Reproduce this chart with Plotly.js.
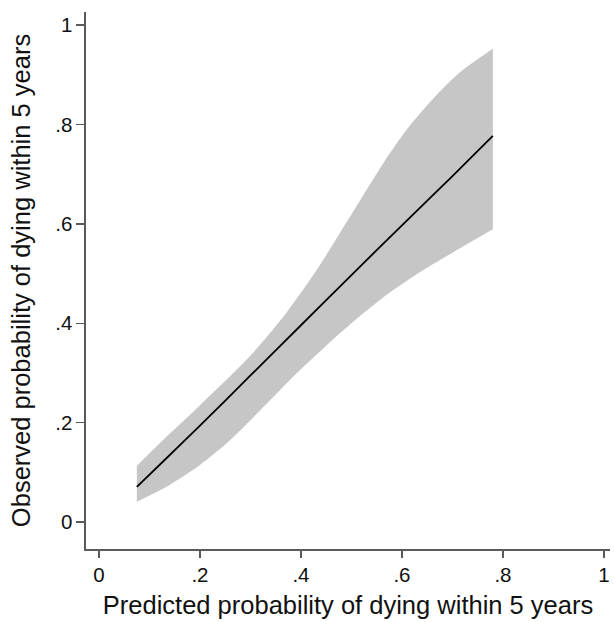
<!DOCTYPE html>
<html>
<head>
<meta charset="utf-8">
<script src="https://cdn.plot.ly/plotly-3.0.1.min.js"></script>
<style>html,body{margin:0;padding:0;background:#fff;}#chart{width:614px;height:622px;}</style>
</head>
<body>
<div id="chart"></div>
<script>
// Fitted curve (observed vs predicted)
const fitX = [0.075, 0.13, 0.2, 0.3, 0.4, 0.5, 0.6, 0.7, 0.78];
const fitY = [0.071, 0.125, 0.194, 0.295, 0.396, 0.497, 0.597, 0.696, 0.777];
// Upper confidence bound
const upX = [0.075, 0.13, 0.2, 0.3, 0.365, 0.431, 0.497, 0.563, 0.609, 0.63, 0.675, 0.715, 0.78];
const upY = [0.113, 0.168, 0.235, 0.335, 0.413, 0.507, 0.614, 0.722, 0.789, 0.815, 0.866, 0.905, 0.952];
// Lower confidence bound
const loX = [0.075, 0.13, 0.2, 0.26, 0.33, 0.39, 0.45, 0.5, 0.56, 0.63, 0.7, 0.78];
const loY = [0.041, 0.069, 0.115, 0.165, 0.236, 0.298, 0.355, 0.400, 0.450, 0.499, 0.542, 0.589];

const tickVals = [0, 0.2, 0.4, 0.6, 0.8, 1];
const tickText = ['0', '.2', '.4', '.6', '.8', '1'];
const xTitle = 'Predicted probability of dying within 5 years';
const yTitle = 'Observed probability of dying within 5 years';

const band = '#c6c6c6';
const traces = [
  {x: loX, y: loY, type: 'scatter', mode: 'lines',
   line: {width: 0, color: band, shape: 'spline', smoothing: 0.8}, hoverinfo: 'skip', showlegend: false},
  {x: upX, y: upY, type: 'scatter', mode: 'lines', fill: 'tonexty', fillcolor: band,
   line: {width: 0, color: band, shape: 'spline', smoothing: 0.8}, hoverinfo: 'skip', showlegend: false},
  {x: fitX, y: fitY, type: 'scatter', mode: 'lines',
   line: {color: '#000000', width: 1.8, shape: 'spline', smoothing: 0.6}, showlegend: false}
];

const font = {family: 'Liberation Sans, Arial, sans-serif', color: '#000'};
const layout = {
  width: 614, height: 622,
  margin: {l: 86, r: 4, t: 12, b: 73, pad: 0},
  paper_bgcolor: '#fff', plot_bgcolor: '#fff',
  font: font,
  showlegend: false,
  xaxis: {
    range: [-0.0257, 1.012], tickvals: tickVals, ticktext: tickText,
    showgrid: false, zeroline: false, showline: true, linecolor: '#5a5a5a', linewidth: 1.6,
    ticks: 'outside', ticklen: 7, tickwidth: 1.4, tickcolor: '#5a5a5a',
    tickfont: {size: 20.5, family: font.family, color: '#111'},
    title: {text: xTitle, font: {size: 25.5, family: font.family, color: '#111'}, standoff: 11},
    automargin: false
  },
  yaxis: {
    range: [-0.054, 1.026], tickvals: tickVals, ticktext: tickText,
    showgrid: false, zeroline: false, showline: true, linecolor: '#5a5a5a', linewidth: 1.6,
    ticks: 'outside', ticklen: 8, tickwidth: 1.4, tickcolor: '#5a5a5a',
    tickfont: {size: 20.5, family: font.family, color: '#111'},
    title: {text: yTitle, font: {size: 25.5, family: font.family, color: '#111'}, standoff: 17},
    automargin: false
  }
};

Plotly.newPlot('chart', traces, layout, {displayModeBar: false, staticPlot: true});
</script>
</body>
</html>
